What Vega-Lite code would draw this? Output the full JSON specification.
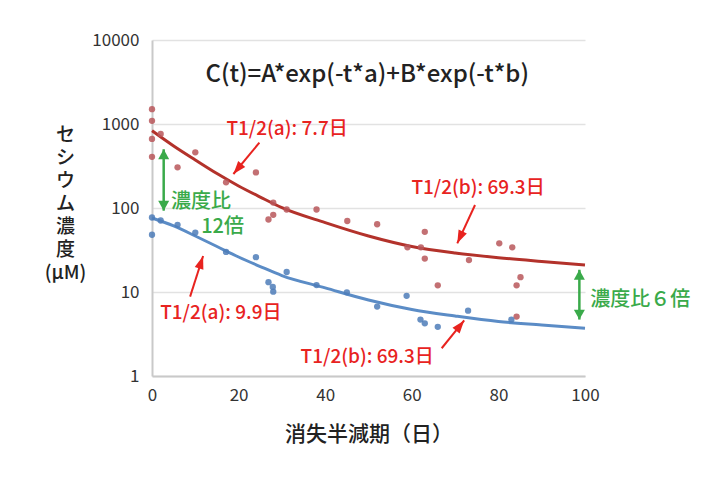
{
  "$schema": "https://vega.github.io/schema/vega-lite/v6.json",
  "width": 433,
  "height": 336,
  "autosize": {"type": "none"},
  "padding": {"left": 152, "top": 40, "right": 120, "bottom": 104},
  "background": "white",
  "config": {"font": "Noto Sans CJK JP", "view": {"stroke": null}},
  "datasets": {
    "curves": [
      {"series": "upper", "t": 0, "c": 832}, {"series": "upper", "t": 5, "c": 547}, {"series": "upper", "t": 10, "c": 373},
      {"series": "upper", "t": 15, "c": 257}, {"series": "upper", "t": 20, "c": 183}, {"series": "upper", "t": 25, "c": 135},
      {"series": "upper", "t": 30, "c": 101}, {"series": "upper", "t": 40, "c": 67}, {"series": "upper", "t": 50, "c": 46.4},
      {"series": "upper", "t": 60, "c": 34.8}, {"series": "upper", "t": 70, "c": 29.1}, {"series": "upper", "t": 80, "c": 25.6},
      {"series": "upper", "t": 90, "c": 23.1}, {"series": "upper", "t": 100, "c": 21.0},
      {"series": "lower", "t": 0, "c": 76}, {"series": "lower", "t": 5, "c": 61.1}, {"series": "lower", "t": 10, "c": 46.4},
      {"series": "lower", "t": 15, "c": 34.8}, {"series": "lower", "t": 20, "c": 26.1}, {"series": "lower", "t": 25, "c": 20.1},
      {"series": "lower", "t": 30, "c": 15.7}, {"series": "lower", "t": 40, "c": 11.2}, {"series": "lower", "t": 50, "c": 8.03},
      {"series": "lower", "t": 60, "c": 6.19}, {"series": "lower", "t": 70, "c": 5.18}, {"series": "lower", "t": 80, "c": 4.45},
      {"series": "lower", "t": 90, "c": 4.05}, {"series": "lower", "t": 100, "c": 3.7}
    ],
    "points": [
      {"series": "upper", "t": 0, "c": 1500}, {"series": "upper", "t": 0, "c": 1090}, {"series": "upper", "t": 0, "c": 665},
      {"series": "upper", "t": 0, "c": 407}, {"series": "upper", "t": 2, "c": 760}, {"series": "upper", "t": 5.9, "c": 305},
      {"series": "upper", "t": 10, "c": 460}, {"series": "upper", "t": 17.1, "c": 202}, {"series": "upper", "t": 24, "c": 265},
      {"series": "upper", "t": 26.9, "c": 73}, {"series": "upper", "t": 28, "c": 83}, {"series": "upper", "t": 28, "c": 116},
      {"series": "upper", "t": 31.1, "c": 96}, {"series": "upper", "t": 38, "c": 96}, {"series": "upper", "t": 45.1, "c": 70},
      {"series": "upper", "t": 52, "c": 64}, {"series": "upper", "t": 59, "c": 34}, {"series": "upper", "t": 62.1, "c": 34},
      {"series": "upper", "t": 63, "c": 52}, {"series": "upper", "t": 63, "c": 25}, {"series": "upper", "t": 66, "c": 12},
      {"series": "upper", "t": 73.2, "c": 24}, {"series": "upper", "t": 80.2, "c": 38}, {"series": "upper", "t": 83.2, "c": 34},
      {"series": "upper", "t": 84.2, "c": 12}, {"series": "upper", "t": 85.1, "c": 15}, {"series": "upper", "t": 84.2, "c": 5.1},
      {"series": "lower", "t": 0, "c": 77}, {"series": "lower", "t": 0, "c": 48}, {"series": "lower", "t": 2, "c": 71},
      {"series": "lower", "t": 5.9, "c": 63}, {"series": "lower", "t": 10, "c": 51}, {"series": "lower", "t": 17.1, "c": 30},
      {"series": "lower", "t": 24, "c": 26}, {"series": "lower", "t": 26.9, "c": 13.1}, {"series": "lower", "t": 27.9, "c": 11.5},
      {"series": "lower", "t": 28, "c": 10.1}, {"series": "lower", "t": 31.1, "c": 17.3}, {"series": "lower", "t": 38, "c": 12.1},
      {"series": "lower", "t": 45, "c": 9.9}, {"series": "lower", "t": 52, "c": 6.7}, {"series": "lower", "t": 58.8, "c": 9.0},
      {"series": "lower", "t": 62, "c": 4.7}, {"series": "lower", "t": 63, "c": 4.24}, {"series": "lower", "t": 66, "c": 3.85},
      {"series": "lower", "t": 73, "c": 6.0}, {"series": "lower", "t": 83, "c": 4.7}
    ],
    "redArrows": [
      {"id": "a1", "t": 24.8, "c": 599, "t2": 18.8, "c2": 254},
      {"id": "a2", "t": 8.8, "c": 8.8, "t2": 11.8, "c2": 26.8},
      {"id": "b1", "t": 74.6, "c": 108.6, "t2": 70.5, "c2": 38},
      {"id": "b2", "t": 66.9, "c": 2.14, "t2": 72.1, "c2": 4.58}
    ],
    "greenArrows": [
      {"id": "g1", "t": 2.7, "top": 500, "bottom": 93},
      {"id": "g2", "t": 98.7, "top": 18.4, "bottom": 4.7}
    ],
    "labels": [
      {"kind": "red", "t": 31.2, "c": 873, "text": "T1/2(a): 7.7日"},
      {"kind": "red", "t": 15.9, "c": 5.67, "text": "T1/2(a): 9.9日"},
      {"kind": "red", "t": 75.3, "c": 172, "text": "T1/2(b): 69.3日"},
      {"kind": "red", "t": 49.7, "c": 1.7, "text": "T1/2(b): 69.3日"},
      {"kind": "green", "t": 11.3, "c": 119, "text": "濃度比"},
      {"kind": "green", "t": 16.3, "c": 59.9, "text": "12倍"},
      {"kind": "greenRight", "t": 101.2, "c": 8.03, "text": "濃度比６倍"},
      {"kind": "formula", "t": 49.7, "c": 3830, "text": "C(t)=A*exp(-t*a)+B*exp(-t*b)"}
    ]
  },
  "layer": [
    {
      "data": {"name": "curves"},
      "transform": [{"filter": "datum.series === 'upper'"}],
      "mark": {"type": "line", "color": "#b3322b", "strokeWidth": 3, "interpolate": "monotone"},
      "encoding": {
        "x": {
          "field": "t", "type": "quantitative",
          "scale": {"type": "linear", "domain": [0, 100], "nice": false},
          "axis": {
            "values": [0, 20, 40, 60, 80, 100], "grid": false, "ticks": false,
            "domainColor": "#c9c9c9", "domainWidth": 2, "labelFlush": false,
            "labelFontSize": 17, "labelColor": "#333333", "labelPadding": 11,
            "title": "消失半減期（日）", "titleFontSize": 21, "titleFontWeight": 500,
            "titleColor": "#222222", "titlePadding": 20
          }
        },
        "y": {
          "field": "c", "type": "quantitative",
          "scale": {"type": "log", "domain": [1, 10000], "nice": false},
          "axis": {
            "values": [1, 10, 100, 1000, 10000], "format": "d", "grid": true,
            "gridColor": "#e2e2e2", "gridWidth": 1.5, "ticks": false,
            "domainColor": "#c9c9c9", "domainWidth": 2,
            "labelFontSize": 17, "labelColor": "#333333", "labelPadding": 13,
            "title": ["セ", "シ", "ウ", "ム", "濃", "度", "(μM)"],
            "titleAngle": 0, "titleAlign": "center", "titleBaseline": "top",
            "titleX": -87, "titleY": 85, "titleFontSize": 19, "titleLineHeight": 23,
            "titleFontWeight": 500, "titleColor": "#222222"
          }
        }
      }
    },
    {
      "data": {"name": "curves"},
      "transform": [{"filter": "datum.series === 'lower'"}],
      "mark": {"type": "line", "color": "#5b8cc6", "strokeWidth": 3, "interpolate": "monotone"},
      "encoding": {
        "x": {"field": "t", "type": "quantitative"},
        "y": {"field": "c", "type": "quantitative"}
      }
    },
    {
      "data": {"name": "points"},
      "transform": [{"filter": "datum.series === 'upper'"}],
      "mark": {"type": "point", "filled": true, "size": 40, "color": "#b8575a", "opacity": 0.85},
      "encoding": {
        "x": {"field": "t", "type": "quantitative"},
        "y": {"field": "c", "type": "quantitative"}
      }
    },
    {
      "data": {"name": "points"},
      "transform": [{"filter": "datum.series === 'lower'"}],
      "mark": {"type": "point", "filled": true, "size": 40, "color": "#4d7db8", "opacity": 0.85},
      "encoding": {
        "x": {"field": "t", "type": "quantitative"},
        "y": {"field": "c", "type": "quantitative"}
      }
    },
    {
      "data": {"name": "redArrows"},
      "mark": {"type": "rule", "color": "#e8231f", "strokeWidth": 2},
      "encoding": {
        "x": {"field": "t", "type": "quantitative"},
        "y": {"field": "c", "type": "quantitative"},
        "x2": {"field": "t2"},
        "y2": {"field": "c2"}
      }
    },
    {
      "data": {"name": "redArrows"},
      "transform": [{"filter": "datum.id === 'a1'"}],
      "mark": {"type": "point", "shape": "M0,0L0.7,2L-0.7,2Z", "size": 169, "filled": true, "opacity": 1, "color": "#e8231f", "angle": 219.7},
      "encoding": {
        "x": {"field": "t2", "type": "quantitative"},
        "y": {"field": "c2", "type": "quantitative"}
      }
    },
    {
      "data": {"name": "redArrows"},
      "transform": [{"filter": "datum.id === 'a2'"}],
      "mark": {"type": "point", "shape": "M0,0L0.7,2L-0.7,2Z", "size": 169, "filled": true, "opacity": 1, "color": "#e8231f", "angle": 18.1},
      "encoding": {
        "x": {"field": "t2", "type": "quantitative"},
        "y": {"field": "c2", "type": "quantitative"}
      }
    },
    {
      "data": {"name": "redArrows"},
      "transform": [{"filter": "datum.id === 'b1'"}],
      "mark": {"type": "point", "shape": "M0,0L0.7,2L-0.7,2Z", "size": 169, "filled": true, "opacity": 1, "color": "#e8231f", "angle": 204.8},
      "encoding": {
        "x": {"field": "t2", "type": "quantitative"},
        "y": {"field": "c2", "type": "quantitative"}
      }
    },
    {
      "data": {"name": "redArrows"},
      "transform": [{"filter": "datum.id === 'b2'"}],
      "mark": {"type": "point", "shape": "M0,0L0.7,2L-0.7,2Z", "size": 169, "filled": true, "opacity": 1, "color": "#e8231f", "angle": 38.7},
      "encoding": {
        "x": {"field": "t2", "type": "quantitative"},
        "y": {"field": "c2", "type": "quantitative"}
      }
    },
    {
      "data": {"name": "greenArrows"},
      "mark": {"type": "rule", "color": "#3aaa4a", "strokeWidth": 2.5},
      "encoding": {
        "x": {"field": "t", "type": "quantitative"},
        "y": {"field": "top", "type": "quantitative"},
        "y2": {"field": "bottom"}
      }
    },
    {
      "data": {"name": "greenArrows"},
      "mark": {"type": "point", "shape": "M0,0L1,1.8L-1,1.8Z", "size": 121, "filled": true, "opacity": 1, "color": "#3aaa4a", "angle": 0},
      "encoding": {
        "x": {"field": "t", "type": "quantitative"},
        "y": {"field": "top", "type": "quantitative"}
      }
    },
    {
      "data": {"name": "greenArrows"},
      "mark": {"type": "point", "shape": "M0,0L1,1.8L-1,1.8Z", "size": 121, "filled": true, "opacity": 1, "color": "#3aaa4a", "angle": 180},
      "encoding": {
        "x": {"field": "t", "type": "quantitative"},
        "y": {"field": "bottom", "type": "quantitative"}
      }
    },
    {
      "data": {"name": "labels"},
      "transform": [{"filter": "datum.kind === 'red'"}],
      "mark": {"type": "text", "color": "#e8231f", "fontSize": 19, "fontWeight": 500, "align": "center", "baseline": "middle"},
      "encoding": {
        "x": {"field": "t", "type": "quantitative"},
        "y": {"field": "c", "type": "quantitative"},
        "text": {"field": "text"}
      }
    },
    {
      "data": {"name": "labels"},
      "transform": [{"filter": "datum.kind === 'green'"}],
      "mark": {"type": "text", "color": "#3aaa4a", "fontSize": 20, "fontWeight": 500, "align": "center", "baseline": "middle"},
      "encoding": {
        "x": {"field": "t", "type": "quantitative"},
        "y": {"field": "c", "type": "quantitative"},
        "text": {"field": "text"}
      }
    },
    {
      "data": {"name": "labels"},
      "transform": [{"filter": "datum.kind === 'greenRight'"}],
      "mark": {"type": "text", "color": "#3aaa4a", "fontSize": 20, "fontWeight": 500, "align": "left", "baseline": "middle"},
      "encoding": {
        "x": {"field": "t", "type": "quantitative"},
        "y": {"field": "c", "type": "quantitative"},
        "text": {"field": "text"}
      }
    },
    {
      "data": {"name": "labels"},
      "transform": [{"filter": "datum.kind === 'formula'"}],
      "mark": {"type": "text", "color": "#222222", "fontSize": 24, "fontWeight": 500, "align": "center", "baseline": "middle"},
      "encoding": {
        "x": {"field": "t", "type": "quantitative"},
        "y": {"field": "c", "type": "quantitative"},
        "text": {"field": "text"}
      }
    }
  ]
}
